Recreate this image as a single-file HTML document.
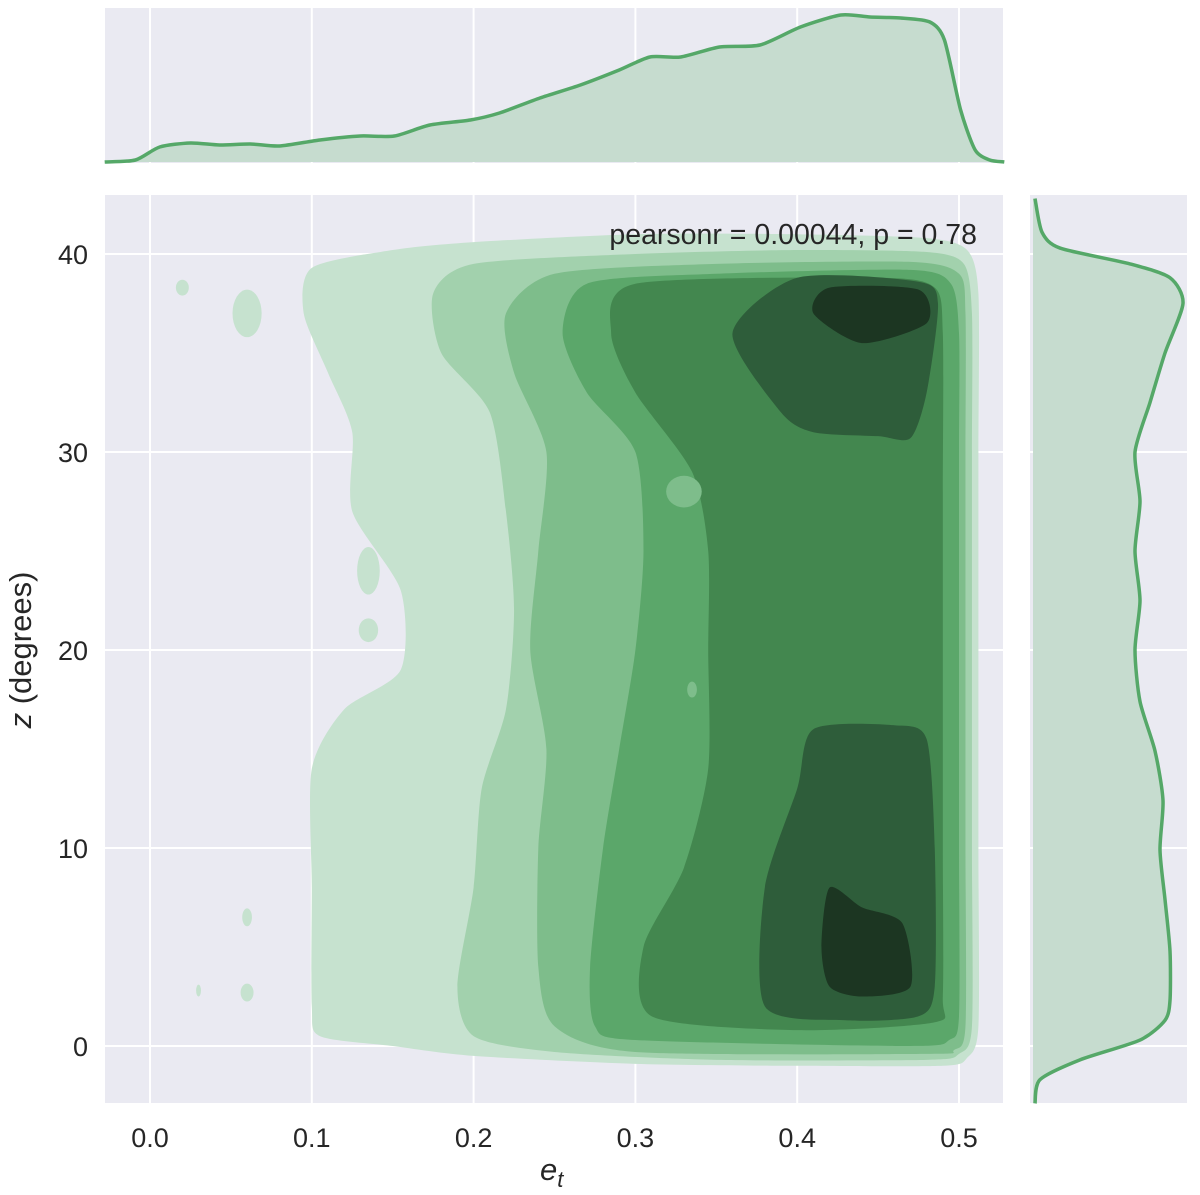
<!DOCTYPE html>
<html><head><meta charset="utf-8"><style>
body{margin:0;background:#fff;}
svg{display:block;font-family:"Liberation Sans",sans-serif;}
</style></head><body>
<svg id="fig" width="1200" height="1195" viewBox="0 0 1200 1195"></svg>
<script>
// ---- data ----
const xTicks=[0.0,0.1,0.2,0.3,0.4,0.5];
const xTickLabels=["0.0","0.1","0.2","0.3","0.4","0.5"];
const yTicks=[0,10,20,30,40];
const yTickLabels=["0","10","20","30","40"];
const levelColors=["#c6e2cf","#a2d1ad","#7ebd8b","#5ba76a","#43874f","#2e5d3a","#1c3622"];
const level1=[[0.105,0.5],[0.1,2],[0.1,8],[0.1,14],[0.12,17],[0.155,19],[0.155,23],[0.125,27],[0.125,31],[0.11,34],[0.095,37],[0.1,39.3],[0.15,40.2],[0.2,40.6],[0.3,41],[0.4,41],[0.48,40.8],[0.505,40.2],[0.512,38],[0.512,30],[0.512,20],[0.512,10],[0.512,1],[0.505,-0.6],[0.49,-1],[0.4,-1],[0.3,-0.9],[0.2,-0.5],[0.15,0]];
const level2=[[0.2,0.5],[0.19,3],[0.2,8],[0.205,13],[0.22,17],[0.225,22],[0.22,27],[0.21,32],[0.18,35],[0.175,38],[0.2,39.5],[0.3,40],[0.4,40.2],[0.48,40.1],[0.503,39.5],[0.508,37],[0.508,30],[0.508,20],[0.508,10],[0.508,1],[0.5,-0.4],[0.48,-0.7],[0.35,-0.7],[0.25,-0.3]];
const level3=[[0.25,1],[0.24,4],[0.24,10],[0.245,15],[0.235,20],[0.24,25],[0.245,30],[0.225,34],[0.22,37],[0.25,39],[0.35,39.5],[0.47,39.6],[0.5,39],[0.504,37],[0.504,30],[0.504,20],[0.504,10],[0.504,1],[0.497,-0.2],[0.48,-0.4],[0.3,-0.3]];
const level4=[[0.275,1],[0.272,4],[0.28,10],[0.29,15],[0.3,20],[0.305,25],[0.3,30],[0.27,33],[0.255,36],[0.27,38.5],[0.35,39],[0.47,39.2],[0.495,38.5],[0.5,36],[0.5,30],[0.5,20],[0.5,10],[0.5,1.5],[0.494,0.3],[0.47,0],[0.3,0.3]];
const level5=[[0.31,1.5],[0.305,5],[0.33,9],[0.345,14],[0.345,20],[0.345,25],[0.335,29],[0.3,33],[0.285,36],[0.3,38.5],[0.45,38.8],[0.485,38.3],[0.49,36],[0.49,28],[0.49,20],[0.49,10],[0.49,2.5],[0.485,1.2],[0.4,0.8]];
const level6a=[[0.38,2],[0.38,8],[0.4,13],[0.41,16],[0.46,16.2],[0.48,15.5],[0.485,10],[0.485,3],[0.475,1.5],[0.43,1.3]];
const level6b=[[0.36,36],[0.39,32],[0.41,31],[0.45,30.8],[0.47,30.7],[0.48,33],[0.487,37.5],[0.475,38.6],[0.4,38.8]];
const level7a=[[0.415,5],[0.42,8],[0.44,7],[0.465,6.2],[0.47,3],[0.44,2.5],[0.42,3]];
const level7b=[[0.41,37],[0.42,38.3],[0.475,38.2],[0.48,36.5],[0.44,35.5]];
const islands=[[0.02,38.3,0.004,0.4],[0.06,37,0.009,1.2],[0.135,24,0.007,1.2],[0.135,21,0.006,0.6],[0.06,6.5,0.003,0.45],[0.06,2.7,0.004,0.45],[0.03,2.8,0.0015,0.3]];
const holes=[[0.33,28,0.011,0.8,3],[0.335,18,0.003,0.4,3]];
const topE=[-0.028,-0.009,0.006,0.025,0.043,0.062,0.08,0.105,0.13,0.151,0.173,0.198,0.216,0.241,0.266,0.29,0.309,0.328,0.352,0.377,0.402,0.427,0.445,0.464,0.482,0.491,0.501,0.51,0.519,0.528];
const topDens=[0,2,15,19,17,18,16,22,26,26,37,42,49,64,77,92,105,105,115,117,135,147,145,144,140,122,52,12,2,0];
const rightZ=[-2.9,-1.7,-0.7,0.3,1.3,2.3,4.8,7.4,9.9,12.4,14.9,17.4,20,22.5,25,27.5,30,32.5,35,37.5,38.8,39.5,40.3,41.1,42.8];
const rightDens=[2,7,47,107,132,137,137,132,127,130,122,107,102,107,102,107,102,117,132,150,137,97,27,9,2];
// ---- geometry ----
const X0=105,X1=1003,Y0=195,Y1=1103;
const ex=e=>150+e*1618, zy=z=>1046-z*19.8;
const NS="http://www.w3.org/2000/svg";
const svg=document.getElementById('fig');
function el(t,a,p){const n=document.createElementNS(NS,t);for(const k in a)n.setAttribute(k,a[k]);(p||svg).appendChild(n);return n;}
function curve(pts,closed){const n=pts.length,k=1/8;let d=`M${pts[0][0]},${pts[0][1]}`;
const m=closed?n:n-1;
const at=i=>closed?pts[(i+n)%n]:pts[Math.max(0,Math.min(n-1,i))];
for(let i=0;i<m;i++){const p0=at(i-1),p1=at(i),p2=at(i+1),p3=at(i+2);
d+=`C${p1[0]+(p2[0]-p0[0])*k},${p1[1]+(p2[1]-p0[1])*k} ${p2[0]-(p3[0]-p1[0])*k},${p2[1]-(p3[1]-p1[1])*k} ${p2[0]},${p2[1]}`;}return d+(closed?'Z':'');}
// backgrounds
let b=el('rect',{x:X0,y:Y0,width:X1-X0,height:Y1-Y0,fill:'#eaeaf2'});

let bt=el('rect',{x:X0,y:8,width:X1-X0,height:155,fill:'#eaeaf2'});

let br=el('rect',{x:1030,y:Y0,width:157,height:Y1-Y0,fill:'#eaeaf2'});

// grid
xTicks.forEach(t=>{el('line',{x1:ex(t),x2:ex(t),y1:Y0,y2:Y1,stroke:'#fff','stroke-width':2});el('line',{x1:ex(t),x2:ex(t),y1:8,y2:163,stroke:'#fff','stroke-width':2});});
yTicks.forEach(t=>{el('line',{x1:X0,x2:X1,y1:zy(t),y2:zy(t),stroke:'#fff','stroke-width':2});el('line',{x1:1030,x2:1187,y1:zy(t),y2:zy(t),stroke:'#fff','stroke-width':2});});
// contours
const clip=el('clipPath',{id:'pc'});el('rect',{x:X0,y:Y0,width:X1-X0,height:Y1-Y0},clip);
const g=el('g',{'clip-path':'url(#pc)'});

const levels=[[level1],[level2],[level3],[level4],[level5],[level6a,level6b],[level7a,level7b]];
levels.forEach((polys,i)=>polys.forEach(p=>{const pa=el('path',{d:curve(p.map(q=>[ex(q[0]),zy(q[1])]),true),fill:levelColors[i]},g);
}));
islands.forEach(s=>{const e=el('ellipse',{cx:ex(s[0]),cy:zy(s[1]),rx:s[2]*1618,ry:s[3]*19.8,fill:levelColors[0]},g);
});
holes.forEach(s=>{const e=el('ellipse',{cx:ex(s[0]),cy:zy(s[1]),rx:s[2]*1618,ry:s[3]*19.8,fill:levelColors[s[4]-1]},g);
});
// top marginal
const tp=topE.map((e,i)=>[ex(e),162-topDens[i]]);
let td=curve(tp,false);
let tf=el('path',{d:td+`L${ex(topE[topE.length-1])},162L${ex(topE[0])},162Z`,fill:'#c6dccf'});

let tl=el('path',{d:td,fill:'none',stroke:'#55a868','stroke-width':3.5,'stroke-linejoin':'round'});

// right marginal
const rp=rightZ.map((z,i)=>[1033+rightDens[i],zy(z)]);
let rd=curve(rp,false);
let rf=el('path',{d:rd+`L1033,${zy(rightZ[rightZ.length-1])}L1033,${zy(rightZ[0])}Z`,fill:'#c6dccf'});

let rl=el('path',{d:rd,fill:'none',stroke:'#55a868','stroke-width':3.5,'stroke-linejoin':'round'});

// ticks
xTicks.forEach((t,i)=>{const tx=el('text',{x:ex(t),y:1147,'font-size':27,fill:'#262626','text-anchor':'middle'});tx.textContent=xTickLabels[i];
});
yTicks.forEach((t,i)=>{const tx=el('text',{x:88,y:zy(t)+10,'font-size':27,fill:'#262626','text-anchor':'end'});tx.textContent=yTickLabels[i];
});
</script>
<svg style="position:absolute;left:0;top:0" width="1200" height="1195">
<text x="977" y="244" font-size="28.5" fill="#262626" text-anchor="end" font-family="Liberation Sans, sans-serif">pearsonr = 0.00044; p = 0.78</text>
<text x="540" y="1180" font-size="31" fill="#262626" font-family="Liberation Sans, sans-serif"><tspan font-style="italic">e</tspan><tspan font-style="italic" font-size="22" dy="7">t</tspan></text>
<text transform="translate(31,650) rotate(-90)" font-size="31" fill="#262626" text-anchor="middle" font-family="Liberation Sans, sans-serif"><tspan font-style="italic">z</tspan> (degrees)</text>
</svg>
</body></html>
